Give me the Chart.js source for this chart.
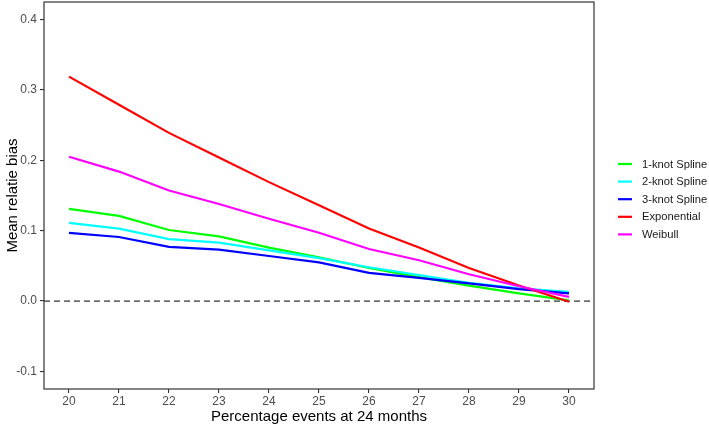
<!DOCTYPE html>
<html>
<head>
<meta charset="utf-8">
<script src="https://cdn.jsdelivr.net/npm/chart.js@4.4.0/dist/chart.umd.min.js"></script>
<style>
html,body{margin:0;padding:0;background:#fff;}
#c{display:block;}
</style>
</head>
<body>
<canvas id="c" width="709" height="425"></canvas>
<script>
const xValues = [20, 21, 22, 23, 24, 25, 26, 27, 28, 29, 30];
const seriesNames = ["1-knot Spline", "2-knot Spline", "3-knot Spline", "Exponential", "Weibull"];
const seriesColors = ["#00FF00", "#00FFFF", "#0000FF", "#FF0000", "#FF00FF"];
const knot1 = [0.131, 0.121, 0.101, 0.092, 0.076, 0.062, 0.047, 0.034, 0.022, 0.011, 0.001];
const knot2 = [0.111, 0.103, 0.088, 0.083, 0.072, 0.061, 0.048, 0.037, 0.026, 0.018, 0.013];
const knot3 = [0.097, 0.091, 0.077, 0.073, 0.064, 0.055, 0.040, 0.033, 0.025, 0.017, 0.011];
const exponential = [0.319, 0.279, 0.239, 0.204, 0.169, 0.136, 0.103, 0.076, 0.047, 0.022, -0.001];
const weibull = [0.205, 0.184, 0.157, 0.138, 0.117, 0.097, 0.074, 0.058, 0.038, 0.021, 0.006];
const yTicks = [-0.1, 0.0, 0.1, 0.2, 0.3, 0.4];
const xTicks = [20, 21, 22, 23, 24, 25, 26, 27, 28, 29, 30];
const allSeries = [knot1, knot2, knot3, exponential, weibull];

const datasets = allSeries.map((vals, i) => ({
  label: seriesNames[i],
  data: xValues.map((x, j) => ({x: x, y: vals[j]})),
  borderColor: seriesColors[i],
  backgroundColor: seriesColors[i],
  borderWidth: 2.2,
  pointRadius: 0,
  tension: 0,
  fill: false,
  order: allSeries.length - i
}));

const frameAndRef = {
  id: 'frameAndRef',
  beforeDatasetsDraw(chart) {
    const {ctx, chartArea: a, scales} = chart;
    const y0 = scales.y.getPixelForValue(0);
    ctx.save();
    ctx.strokeStyle = '#333333';
    ctx.lineWidth = 1.2;
    ctx.setLineDash([6, 4]);
    ctx.beginPath();
    ctx.moveTo(a.left, y0);
    ctx.lineTo(a.right, y0);
    ctx.stroke();
    ctx.restore();
  },
  afterDraw(chart) {
    const {ctx, chartArea: a} = chart;
    ctx.save();
    ctx.strokeStyle = '#333333';
    ctx.lineWidth = 1.2;
    ctx.strokeRect(a.left, a.top, a.right - a.left, a.bottom - a.top);
    // legend
    const ds = chart.data.datasets;
    const startY = 164, step = 17.6;
    ctx.font = '11.2px "Liberation Sans", Arial, sans-serif';
    ctx.textBaseline = 'middle';
    ctx.textAlign = 'left';
    ds.forEach((d, i) => {
      const y = startY + i * step;
      ctx.strokeStyle = d.borderColor;
      ctx.lineWidth = 2.2;
      ctx.setLineDash([]);
      ctx.beginPath();
      ctx.moveTo(618, y);
      ctx.lineTo(632, y);
      ctx.stroke();
      ctx.fillStyle = '#1a1a1a';
      ctx.fillText(d.label, 642, y + 0.5);
    });
    ctx.restore();
  }
};

new Chart(document.getElementById('c'), {
  type: 'line',
  data: {datasets},
  options: {
    responsive: false,
    animation: false,
    layout: {padding: {top: 2, right: 115, bottom: 0, left: 0}},
    plugins: {legend: {display: false}, tooltip: {enabled: false}},
    scales: {
      x: {
        type: 'linear',
        min: 19.5, max: 30.5,
        afterBuildTicks(scale) { scale.ticks = xTicks.map(v => ({value: v})); },
        afterFit(scale) { scale.height = 36; scale.paddingLeft = 0; scale.paddingRight = 0; },
        grid: {drawOnChartArea: false, drawTicks: true, tickLength: 4, color: '#333333', lineWidth: 1.1},
        border: {display: false},
        ticks: {color: '#4D4D4D', padding: 1, font: {family: '"Liberation Sans", Arial, sans-serif', size: 12}, maxRotation: 0,
                callback: v => String(v)},
        title: {display: true, text: 'Percentage events at 24 months', color: '#000000',
                font: {family: '"Liberation Sans", Arial, sans-serif', size: 15}, padding: {top: 0, bottom: -1}}
      },
      y: {
        type: 'linear',
        min: -0.125, max: 0.425,
        afterBuildTicks(scale) { scale.ticks = yTicks.map(v => ({value: v})); },
        afterFit(scale) { scale.width = 44; scale.paddingTop = 0; scale.paddingBottom = 0; },
        grid: {drawOnChartArea: false, drawTicks: true, tickLength: 4, color: '#333333', lineWidth: 1.1},
        border: {display: false},
        ticks: {color: '#4D4D4D', padding: 3, font: {family: '"Liberation Sans", Arial, sans-serif', size: 12},
                callback: v => v.toFixed(1)},
        title: {display: true, text: 'Mean relatie bias', color: '#000000',
                font: {family: '"Liberation Sans", Arial, sans-serif', size: 15}, padding: {top: 4, bottom: 0}}
      }
    }
  },
  plugins: [frameAndRef]
});
</script>
</body>
</html>
